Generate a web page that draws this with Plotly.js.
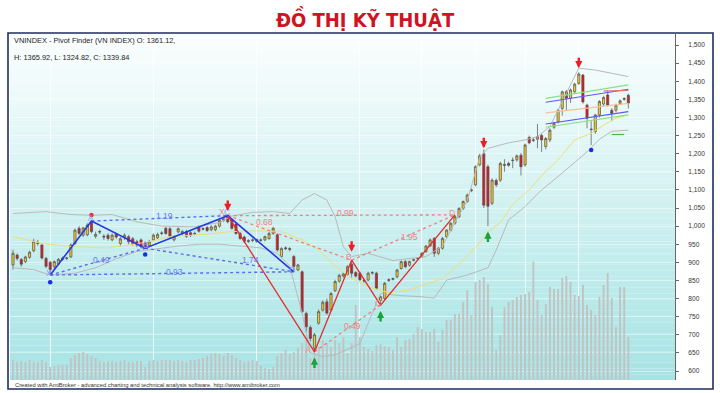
<!DOCTYPE html>
<html><head><meta charset="utf-8">
<script src="https://cdn.plot.ly/plotly-3.0.1.min.js"></script>
<style>html,body{margin:0;padding:0;background:#fff;}#chart{width:720px;height:393px;}</style>
</head><body><div id="chart"></div>
<script>
// ---- candle data (index 0..149) ----
const openP = [893,920,908,902,914,932,955,948,911,900,888,895,908,911,915,952,994,975,976,1010,
972,985,972,975,962,978,952,968,971,965,957,962,952,946,962,968,980,994,993,962,
984,980,985,982,980,998,993,996,990,990,1000,1016,1028,1018,1006,980,970,960,962,958,
962,962,966,980,976,916,940,938,916,879,874,759,720,663,732,768,791,768,822,848,
862,866,895,872,870,850,851,872,870,795,800,850,853,860,883,902,892,906,910,916,
930,945,966,925,939,971,989,1008,1026,1049,1068,1098,1114,1169,1200,1164,1063,1126,1127,1170,
1173,1181,1183,1196,1169,1245,1238,1240,1250,1220,1238,1273,1288,1325,1371,1353,1371,1394,1417,1334,
1268,1261,1307,1337,1362,1320,1320,1339,1350,1361.12];
const highP = [935,925,912,918,932,965,962,952,915,904,905,912,916,915,952,993,1000,998,1008,1015,
985,990,978,980,980,982,970,980,976,970,962,966,958,962,980,982,986,998,997,975,
996,990,990,986,985,1002,997,1000,1002,1004,1020,1024,1031,1022,1010,984,974,964,966,966,
966,974,984,998,980,942,944,942,920,896,878,764,726,705,770,795,800,818,852,868,
872,892,906,876,874,856,874,876,874,808,846,856,858,882,905,906,905,910,914,928,
948,966,970,942,970,992,1011,1031,1052,1071,1090,1104,1168,1200,1212,1170,1132,1132,1178,1185,
1178,1190,1198,1202,1228,1250,1244,1282,1256,1246,1270,1288,1324,1374,1376,1380,1396,1425,1420,1338,
1290,1310,1348,1360,1375,1326,1338,1350,1356,1365.92];
const lowP = [880,905,888,898,910,928,946,908,884,866,882,892,904,906,912,948,976,970,972,980,
966,978,962,960,958,965,945,962,950,946,942,938,938,942,958,964,975,976,968,958,
980,975,968,970,975,982,988,984,986,986,996,1012,1008,990,976,962,954,954,956,954,
957,958,962,976,930,912,934,930,874,876,760,708,682,652,728,764,755,764,818,844,
858,862,858,858,848,844,848,866,824,782,796,846,850,856,880,884,888,903,907,913,
926,942,915,920,935,967,985,1004,1022,1045,1064,1094,1110,1165,1050,1000,1058,1108,1122,1150,
1164,1160,1178,1140,1164,1226,1232,1215,1205,1212,1232,1268,1284,1305,1320,1340,1366,1390,1338,1270,
1224,1255,1300,1332,1330,1290,1314,1335,1346,1324.82];
const closeP = [925,911,895,915,928,958,952,912,889,880,902,908,912,912,948,989,980,995,1003,985,
977,984,970,966,975,970,965,975,957,952,948,943,940,957,975,977,981,980,972,971,
993,985,972,975,979,986,992,988,998,1000,1016,1020,1012,994,980,966,958,958,961,963,
961,971,980,994,934,938,938,936,889,893,764,722,690,700,764,790,760,814,847,864,
868,888,870,862,852,849,870,871,828,805,842,852,855,879,902,888,902,907,911,925,
945,962,925,939,966,989,1008,1026,1049,1068,1086,1100,1164,1194,1058,1055,1127,1114,1173,1168,
1168,1182,1194,1164,1224,1230,1237,1247,1238,1242,1265,1284,1320,1371,1353,1376,1392,1420,1343,1298,
1267,1307,1344,1355,1334,1311,1334,1346,1352,1339.84];
const volume = [20,18,19,18,20,18,18,20,18,13,14,15,15,15,22,25,27,28,26,24,
22,19,18,19,19,18,19,20,18,18,19,19,13,19,20,19,20,20,20,19,
20,19,18,20,20,21,22,24,26,27,26,24,27,25,22,20,18,19,20,19,
15,12,11,13,24,27,30,26,28,32,37,40,22,32,33,40,37,33,40,37,
43,27,37,75,43,33,31,29,35,36,34,33,30,43,33,40,41,46,53,51,
48,48,51,38,50,60,60,66,66,78,90,65,98,100,103,96,73,30,45,73,
78,80,83,85,86,88,118,80,65,76,93,91,91,102,104,98,85,84,95,75,
70,65,83,95,107,82,53,93,93,43];
const idx = openP.map((_, i) => i);

// ---- indicator lines ----
const maIdx = [0,7,15,23,28,33,38,46,53,59,65,70,74,78,82,86,91,96,100,104,109,112,115,118,121,125,128,132,136,140,143,146,149];
const maVal = [971,952,943,940,948,957,971,977,985,987,985,962,934,890,856,833,816,824,840,855,906,940,985,1010,1060,1100,1140,1183,1238,1256,1279,1298,1307];
const ubIdx = [0,8,14,19,24,30,36,44,50,53,58,63,67,70,73,76,78,80,82,86,92,100,104,107,110,113,115,120,124,127,130,134,137,141,145,149];
const ubVal = [1035,1040,1032,1030,1032,1012,1000,998,1010,1028,1038,1040,1035,1072,1090,1072,1026,943,916,925,905,916,945,1010,1070,1190,1215,1230,1238,1247,1275,1367,1436,1431,1422,1413];
const lbIdx = [0,5,9,15,20,25,30,35,40,45,50,55,60,64,67,70,72,75,78,81,84,87,89,94,99,102,105,110,115,117,120,124,128,132,136,139,142,145,149];
const lbVal = [885,880,865,870,885,910,930,938,945,950,950,945,940,925,890,760,650,640,645,660,676,760,814,808,805,801,851,865,885,934,1017,1054,1100,1137,1175,1205,1240,1262,1265];

// ---- pattern pivots ----
const bluePivotIdx = [9,19,32,52,68];
const bluePivotVal = [865,1014,939,1029,874];
const redPivotIdx = [52,73,82,89,107];
const redPivotVal = [1029,653,906,782,1031];
const blueRatioText = ['1.19','0.49','0.93','1.74'];
const blueRatioIdx = [36.8,21.5,39.2,57.4];
const blueRatioVal = [1028,906,873,906];
const redRatioText = ['0.68','0.99','1.95','0.49'];
const redRatioIdx = [61,80.4,96.1,82.1];
const redRatioVal = [1011,1036,970,724];
const bluePtText = ['X','A','B','C','D'];
const bluePtIdx = [8.6,18.8,32.3,51.8,67.5];
const bluePtVal = [870,1023,948,1040,880];
const redPtText = ['X','A','B','C','D'];
const redPtIdx = [50.7,71.5,81.3,88.5,106.2];
const redPtVal = [1040,658,915,788,1035];

// ---- pivot markers ----
const downArrowIdx = [52,82,114,137];
const downArrowVal = [1042,929,1215,1436];
const upArrowIdx = [73,89,115];
const upArrowVal = [637,766,985];
const blueDotIdx = [9,32,140];
const blueDotVal = [845,922,1210];
const redDotIdx = [19];
const redDotVal = [1031];

// ---- channel lines (right side) ----
const chanIdx = [129,149];
const chanGreenUp = [1353,1390];
const chanBlueUp = [1342,1378];
const chanOrange = [1313,1339];
const chanBlueLow = [1282,1316];
const chanGreenLow = [1273,1307];
const redShortIdx = [143,149];
const redShortVal = [1373,1375];
const greenShortIdx = [145,148];
const greenShortVal = [1253,1253];

const priceTicks = [600,650,700,750,800,850,900,950,1000,1050,1100,1150,1200,1250,1300,1350,1400,1450,1500];
const gridIdx = [9,34,59,84,99,112,124,137];

// ---- traces ----
const traces = [];
traces.push({type:'bar', x: idx, y: volume, width: 0.45, marker:{color:'#c2c2c2'}, hoverinfo:'skip', xaxis:'x', yaxis:'y'});
traces.push({type:'candlestick', x: idx, open: openP, high: highP, low: lowP, close: closeP, xaxis:'x', yaxis:'y2',
  increasing:{line:{color:'#505050', width:0.7}, fillcolor:'#f7c629'},
  decreasing:{line:{color:'#505050', width:0.7}, fillcolor:'#e5161e'},
  whiskerwidth:0, hoverinfo:'skip'});
const mkLine = (x, y, color, width, dash) => ({type:'scatter', mode:'lines', x, y, yaxis:'y2', hoverinfo:'skip',
  line:{color, width, dash: dash || 'solid'}});
traces.push(mkLine(ubIdx, ubVal, '#b9b9b9', 1));
traces.push(mkLine(lbIdx, lbVal, '#b9b9b9', 1));
traces.push(mkLine(maIdx, maVal, '#ece070', 1));
const bluePairs = [[0,2],[1,3],[0,4],[2,4]];
bluePairs.forEach(p => traces.push(mkLine([bluePivotIdx[p[0]], bluePivotIdx[p[1]]], [bluePivotVal[p[0]], bluePivotVal[p[1]]], '#5a6cf0', 1.4, 'dot')));
const redPairs = [[0,2],[0,4],[1,3],[2,4]];
redPairs.forEach(p => traces.push(mkLine([redPivotIdx[p[0]], redPivotIdx[p[1]]], [redPivotVal[p[0]], redPivotVal[p[1]]], '#f27e7e', 1.3, 'dot')));
traces.push(mkLine(bluePivotIdx, bluePivotVal, '#2336e6', 1.6));
traces.push(mkLine(redPivotIdx, redPivotVal, '#e62a2a', 1.3));
traces.push(mkLine(chanIdx, chanGreenUp, '#86e486', 1.2));
traces.push(mkLine(chanIdx, chanBlueUp, '#5b5bf0', 1.2));
traces.push(mkLine(chanIdx, chanOrange, '#f7c09a', 1.2));
traces.push(mkLine(chanIdx, chanBlueLow, '#5b5bf0', 1.2));
traces.push(mkLine(chanIdx, chanGreenLow, '#86e486', 1.2));
traces.push(mkLine(redShortIdx, redShortVal, '#e87070', 1.2));
traces.push(mkLine(greenShortIdx, greenShortVal, '#3fbf3f', 1.2));
traces.push({type:'scatter', mode:'markers', x: blueDotIdx, y: blueDotVal, yaxis:'y2', hoverinfo:'skip', marker:{color:'#1530e8', size:4.5}});
traces.push({type:'scatter', mode:'markers', x: redDotIdx, y: redDotVal, yaxis:'y2', hoverinfo:'skip', marker:{color:'#f03030', size:4.5}});

// ---- annotations ----
const ann = [];
const lblFont = (c, s) => ({family:'"Liberation Sans", Arial, sans-serif', size: s, color: c});
blueRatioText.forEach((t, k) => ann.push({x: blueRatioIdx[k], y: blueRatioVal[k], xref:'x', yref:'y2', text: t, showarrow:false, font: lblFont('#6a78f2', 8.5)}));
redRatioText.forEach((t, k) => ann.push({x: redRatioIdx[k], y: redRatioVal[k], xref:'x', yref:'y2', text: t, showarrow:false, font: lblFont('#f28080', 8.5)}));
bluePtText.forEach((t, k) => ann.push({x: bluePtIdx[k], y: bluePtVal[k], xref:'x', yref:'y2', text: t, showarrow:false, font: lblFont('#8a96f5', 8.5)}));
redPtText.forEach((t, k) => ann.push({x: redPtIdx[k], y: redPtVal[k], xref:'x', yref:'y2', text: t, showarrow:false, font: lblFont('#f28a8a', 8.5)}));
downArrowIdx.forEach((xi, k) => ann.push({x: xi, y: downArrowVal[k], xref:'x', yref:'y2', text:'', showarrow:true, ax:0, ay:-12, arrowhead:2, arrowsize:0.6, arrowwidth:2.4, arrowcolor:'#ee1c24'}));
upArrowIdx.forEach((xi, k) => ann.push({x: xi, y: upArrowVal[k], xref:'x', yref:'y2', text:'', showarrow:true, ax:0, ay:12, arrowhead:2, arrowsize:0.6, arrowwidth:2.4, arrowcolor:'#18a43a'}));
const hdrFont = {family:'"Liberation Sans", Arial, sans-serif', size:7.4, color:'#222'};
const lastI = closeP.length - 1;
ann.push({xref:'paper', yref:'paper', x:0.003, y:(380-40)/346, xanchor:'left', yanchor:'middle', showarrow:false, font: hdrFont,
  text: 'VNINDEX - Pivot Finder (VN INDEX) O: ' + openP[lastI].toFixed(2) + ','});
ann.push({xref:'paper', yref:'paper', x:0.003, y:(380-58)/346, xanchor:'left', yanchor:'middle', showarrow:false, font: hdrFont,
  text: 'H: ' + highP[lastI].toFixed(2) + ', L: ' + lowP[lastI].toFixed(2) + ', C: ' + closeP[lastI].toFixed(2)});
ann.push({xref:'paper', yref:'paper', x:0.0045, y:(380-385)/346, xanchor:'left', yanchor:'middle', showarrow:false,
  font:{family:'"Liberation Sans", Arial, sans-serif', size:5.8, color:'#333'},
  text: 'Created with AmiBroker - advanced charting and technical analysis software. http://www.amibroker.com'});

// ---- background gradient + frame ----
const shapes = [];
const N = 60;
const gTop = [251,254,254], gBot = [166,227,228];
for (let k = 0; k < N; k++) {
  const f = (k + 0.5) / N;
  const c = gTop.map((v, j) => Math.round(v + (gBot[j] - v) * f));
  shapes.push({type:'rect', xref:'paper', yref:'paper', x0:0, x1:1, y0:1 - (k + 1) / N, y1:1 - k / N,
    fillcolor:'rgb(' + c.join(',') + ')', line:{width:0}, layer:'below'});
}
shapes.push({type:'rect', xref:'paper', yref:'paper', x0:(8-10)/665, x1:(713-10)/665, y0:(380-389)/346, y1:(380-33)/346,
  line:{color:'#1d2d5e', width:1.6}, fillcolor:'rgba(0,0,0,0)', layer:'above'});

const layout = {
  width:720, height:393, margin:{l:10, r:45, t:34, b:13, pad:0},
  paper_bgcolor:'#ffffff', plot_bgcolor:'rgba(0,0,0,0)', showlegend:false, hovermode:false, boxgap:0.25,
  title:{text:'<b>ĐỒ THỊ KỸ THUẬT</b>', x:0.507, xref:'container', xanchor:'center', y:1 - 20/393, yref:'container', yanchor:'middle',
    font:{family:'"Liberation Sans Narrow","Arial Narrow","DejaVu Sans Condensed","Roboto Condensed",sans-serif', size:20, color:'#cf1322'}},
  xaxis:{range:[-0.73, 160.3], showticklabels:false, ticks:'', tickmode:'array', tickvals:gridIdx, showgrid:true,
    gridcolor:'rgba(255,255,255,0.75)', gridwidth:1, zeroline:false, showline:false, fixedrange:true, rangeslider:{visible:false}},
  yaxis:{range:[0, 346], visible:false, fixedrange:true},
  yaxis2:{overlaying:'y', side:'right', anchor:'x', range:[575.2, 1530.5], tickmode:'array', tickvals:priceTicks,
    ticktext: priceTicks.map(v => v.toLocaleString('en-US')), ticks:'outside', ticklen:3, tickcolor:'#666',
    showline:true, linecolor:'#666', linewidth:1, showgrid:true, gridcolor:'rgba(255,255,255,0.45)', zeroline:false,
    tickfont:{family:'"Liberation Sans", Arial, sans-serif', size:6.6, color:'#333'}, ticklabelstandoff:8, fixedrange:true},
  shapes, annotations: ann
};
Plotly.newPlot('chart', traces, layout, {displayModeBar:false, staticPlot:true});
</script></body></html>
